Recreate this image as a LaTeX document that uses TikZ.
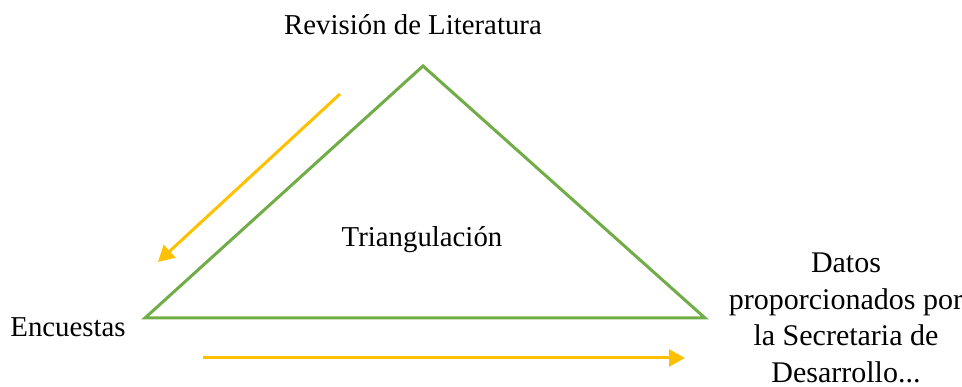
\documentclass[tikz,border=0pt]{standalone}
\usepackage{fontspec}
\setmainfont{Liberation Serif}
\usetikzlibrary{arrows.meta}
\definecolor{trigreen}{RGB}{112,173,71}
\definecolor{arrowgold}{RGB}{255,192,0}
\tikzset{
  lbl/.style={font=\fontsize{28.8}{37}\selectfont,inner sep=0pt},
  flow/.style={arrowgold,line width=3pt,-{Triangle[length=16pt,width=17pt]}}
}
\begin{document}
\begin{tikzpicture}[x=1pt,y=1pt]
  \useasboundingbox (0,0) rectangle (962,387);
  % triangle
  \coordinate (apex) at (423,321);
  \coordinate (left) at (145,69);
  \coordinate (right) at (705,69);
  \draw[trigreen,line width=3pt,line join=miter] (apex)--(left)--(right)--cycle;
  % labels
  \node[lbl] (rev) at (413,362) {Revisión de Literatura};
  \node[lbl] (tri) at (422,147) {Triangulación};
  \node[lbl] (enc) at (68,60) {Encuestas};
  \node[lbl,font=\fontsize{30}{36.5}\selectfont,align=center] (datos) at (846,69)
    {Datos\\proporcionados por\\la Secretaria de\\Desarrollo...};
  % arrows
  \coordinate (a1s) at (340,293);
  \coordinate (a1e) at (158,125);
  \coordinate (a2s) at (203,29);
  \coordinate (a2e) at (685,29);
  \draw[flow] (a1s)--(a1e);
  \draw[flow] (a2s)--(a2e);
\end{tikzpicture}
\end{document}
